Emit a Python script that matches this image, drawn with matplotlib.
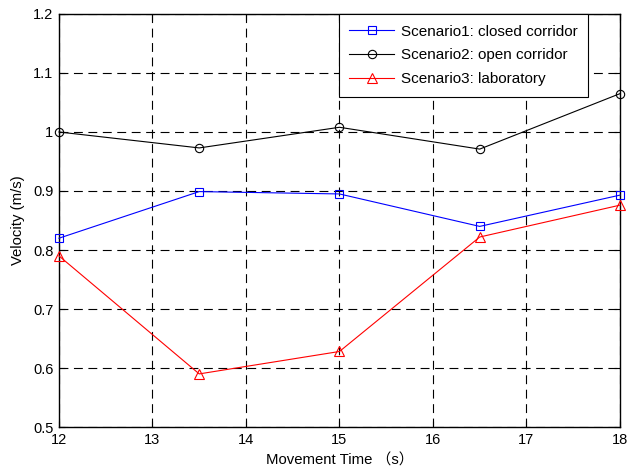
import matplotlib
matplotlib.use("Agg")
import matplotlib.pyplot as plt

plt.rcParams['font.family'] = ['Liberation Sans', 'Noto Sans CJK SC', 'DejaVu Sans']

# movement time (s)
t = [12, 13.5, 15, 16.5, 18]
# mean velocity (m/s) per scenario
v_closed = [0.820, 0.899, 0.895, 0.840, 0.893]
v_open = [1.000, 0.973, 1.008, 0.971, 1.065]
v_lab = [0.790, 0.590, 0.628, 0.822, 0.876]

fig = plt.figure(figsize=(6.28, 4.71), dpi=100)
ax = fig.add_axes([0.0939, 0.0934, 0.8933, 0.8769])

ax.plot(t, v_closed, color='blue', lw=0.8, marker='s', ms=6, mfc='none', mew=0.8,
        label='Scenario1: closed corridor', clip_on=False, zorder=3)
ax.plot(t, v_open, color='black', lw=0.8, marker='o', ms=6, mfc='none', mew=0.8,
        label='Scenario2: open corridor', clip_on=False, zorder=3)
ax.plot(t, v_lab, color='red', lw=0.8, marker='^', ms=7.5, mfc='none', mew=0.8,
        label='Scenario3: laboratory', clip_on=False, zorder=3)

ax.set_xlim(12, 18)
ax.set_ylim(0.5, 1.2)
ax.set_xticks([12, 13, 14, 15, 16, 17, 18])
ax.set_yticks([0.5, 0.6, 0.7, 0.8, 0.9, 1.0, 1.1, 1.2])
ax.set_yticklabels(['0.5', '0.6', '0.7', '0.8', '0.9', '1', '1.1', '1.2'])
ax.grid(True, color='black', linestyle=(0, (8, 5)), linewidth=0.8)
ax.tick_params(direction='in', top=True, right=True, labelsize=10.5, length=4,
               width=0.8, pad=4)
for s in ax.spines.values():
    s.set_linewidth(1.0)

ax.set_xlabel('Movement Time （s）', fontsize=10.7, labelpad=5)
ax.set_ylabel('Velocity (m/s)', fontsize=10.7, labelpad=6)

leg = ax.legend(loc='upper right', bbox_to_anchor=(0.943, 1.0), borderaxespad=0,
                fontsize=11, fancybox=False, framealpha=1, edgecolor='black',
                handlelength=2.9, handletextpad=0.45, labelspacing=0.63,
                borderpad=0.7)
leg.get_frame().set_linewidth(0.8)

fig.savefig('out.png', dpi=100)
